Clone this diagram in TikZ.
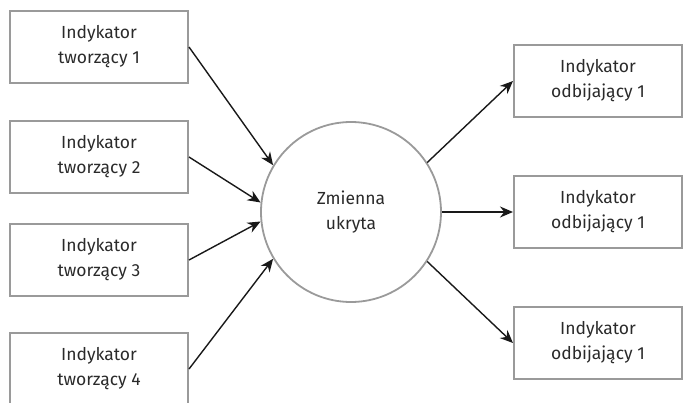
\documentclass[tikz,border=0pt]{standalone}
\usepackage{fontspec}
\setmainfont{Fira Sans}
\usetikzlibrary{arrows.meta}
\definecolor{frame}{HTML}{9A9A9A}
\definecolor{ink}{HTML}{2A2A2A}
\begin{document}
\begin{tikzpicture}[x=1pt,y=-1pt,
  indbox/.style={draw=frame, line width=2pt, minimum width=178pt, minimum height=72pt,
    align=center, text=ink, inner sep=0pt,
    font=\fontsize{17.5}{25}\selectfont},
  latent/.style={circle, draw=frame, line width=1.8pt, minimum size=180pt, inner sep=0pt,
    align=center, text=ink, font=\fontsize{17.5}{25}\selectfont},
  link/.style={line width=1.4pt, draw=black!90, -{Stealth[length=13pt,width=11pt]}}]
\useasboundingbox (0,0) rectangle (683,402);

% formative indicators
\node[indbox] (f1) at (99,47)  {Indykator\\tworzący 1};
\node[indbox] (f2) at (99,157) {Indykator\\tworzący 2};
\node[indbox] (f3) at (99,260) {Indykator\\tworzący 3};
\node[indbox] (f4) at (99,369) {Indykator\\tworzący 4};

% latent variable
\node[latent] (z) at (351,212) {Zmienna\\ukryta};

% reflective indicators
\node[indbox, minimum width=168pt] (r1) at (598,81)  {Indykator\\odbijający 1};
\node[indbox, minimum width=168pt] (r2) at (598,212) {Indykator\\odbijający 1};
\node[indbox, minimum width=168pt] (r3) at (598,343) {Indykator\\odbijający 1};

% arrows into the latent variable
\draw[link] (f1.east) -- (z.149);
\draw[link] (f2.east) -- (z.174);
\draw[link] (f3.east) -- (z.186);
\draw[link] (f4.east) -- (z.211);

% arrows out of the latent variable
\draw[link] (z.33)  -- (r1.west);
\draw[link] (z.0)   -- (r2.west);
\draw[link] (z.-33) -- (r3.west);
\end{tikzpicture}
\end{document}
